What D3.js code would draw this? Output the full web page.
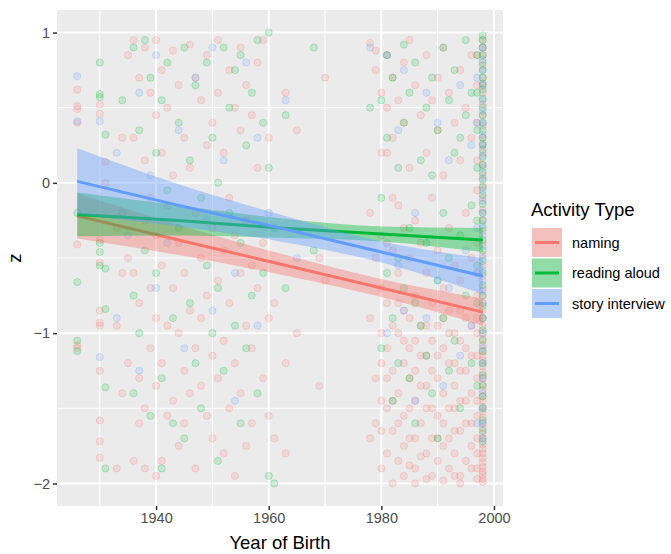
<!DOCTYPE html>
<html>
<head>
<meta charset="utf-8">
<script src="https://cdn.jsdelivr.net/npm/d3@7"></script>
<style>
  html, body { margin: 0; padding: 0; background: #ffffff; }
  svg { display: block; font-family: "Liberation Sans", Arial, Helvetica, sans-serif; }
</style>
</head>
<body>
<svg id="chart" width="671" height="554"></svg>
<script>
// ---------------- data ----------------
const categories = ["naming", "reading aloud", "story interview"];
const colors = ["#F8766D", "#00BA38", "#619CFF"];

const xTicks = [1940, 1960, 1980, 2000];
const xMinor = [1930, 1950, 1970, 1990];
const yTicks = [1, 0, -1, -2];
const yMinor = [0.5, -0.5, -1.5];

// points: [year, z values]
const namingPts = [
  [1926, [0.62, 0.51, 0.49, 0.40, -0.41, -1.08, -1.10]],
  [1930, [0.52, 0.46, -0.38, -0.53, -0.85, -0.93, -0.95, -1.25, -1.58, -1.72, -1.83]],
  [1931, [0.14, 0.0]],
  [1933, [-0.3, -0.95, -1.9]],
  [1934, [0.3, -0.6, -1.4]],
  [1935, [0.85, -0.5, -1.2]],
  [1936, [0.95, 0.3, -0.6, -1.85]],
  [1937, [0.7, -0.8, -1.3, -1.6]],
  [1938, [0.9, 0.15, -0.25, -1.5, -1.9]],
  [1939, [0.6, -0.1, -0.7, -1.1]],
  [1940, [0.95, 0.45, -0.35, -0.9, -1.35, -1.95]],
  [1941, [0.75, 0.2, -0.55, -1.2, -1.85]],
  [1942, [0.5, -0.15, -0.95, -1.55]],
  [1943, [0.88, 0.05, -0.7, -1.45]],
  [1944, [0.65, -0.4, -1.0, -1.75]],
  [1945, [0.3, -0.6, -1.25, -1.6]],
  [1946, [0.92, 0.1, -0.85, -1.4]],
  [1947, [0.7, -0.2, -1.1, -1.9]],
  [1948, [0.55, -0.5, -0.9, -1.35]],
  [1949, [0.85, 0.25, -0.75, -1.55]],
  [1950, [0.4, -0.3, -1.15, -1.7]],
  [1951, [0.95, 0.6, -0.65, -1.3]],
  [1952, [0.2, -0.45, -1.05, -1.8]],
  [1953, [0.75, -0.1, -0.8, -1.5]],
  [1954, [0.5, -0.35, -1.2, -1.95]],
  [1955, [0.9, 0.35, -0.6, -1.4]],
  [1956, [0.65, -0.25, -0.95, -1.75]],
  [1957, [0.45, -0.55, -1.1, -1.6]],
  [1958, [0.8, 0.1, -0.7]],
  [1959, [0.95, -0.4, -1.3]],
  [1960, [0.3, -0.9, -1.55]],
  [1961, [-0.8, -1.7]],
  [1963, [0.6, -1.2, -1.8]],
  [1965, [0.35, -1.0]],
  [1969, [-0.5, -1.35]],
  [1970, [0.7, -0.65]],
  [1978, [0.93, -0.2, -0.9, -1.7]],
  [1979, [0.88, 0.75, -0.5, -1.3, -1.6]],
  [1980, [0.6, 0.2, -0.35, -0.7, -1.0, -1.2, -1.45, -1.65, -1.9]],
  [1981, [0.85, 0.5, 0.2, -0.4, -0.8, -1.1, -1.3, -1.5, -1.8]],
  [1982, [0.7, 0.3, -0.1, -0.45, -0.95, -1.25, -1.45, -1.65, -2.0]],
  [1983, [0.55, -0.15, -0.6, -0.8, -1.0, -1.4, -1.6, -1.85]],
  [1984, [0.8, 0.4, -0.3, -0.85, -1.05, -1.2, -1.55, -1.75, -1.95]],
  [1985, [0.95, 0.1, -0.5, -0.9, -1.1, -1.3, -1.5, -1.7, -1.88]],
  [1986, [0.65, -0.25, -0.75, -1.05, -1.25, -1.45, -1.7, -1.9, -2.0]],
  [1987, [0.45, -0.4, -0.95, -1.15, -1.35, -1.6, -1.82]],
  [1988, [0.85, 0.2, -0.6, -0.95, -1.15, -1.35, -1.5, -1.8, -1.97]],
  [1989, [0.55, -0.1, -0.8, -1.05, -1.25, -1.5, -1.7, -1.95]],
  [1990, [0.7, 0.35, -0.45, -0.95, -1.15, -1.3, -1.55, -1.7, -1.85]],
  [1991, [0.9, 0.05, -0.7, -0.9, -1.1, -1.4, -1.6, -1.75, -1.98]],
  [1992, [0.6, -0.3, -0.85, -1.0, -1.2, -1.5, -1.7, -1.9]],
  [1993, [0.4, -0.55, -1.0, -1.2, -1.35, -1.5, -1.65, -1.8, -1.95]],
  [1994, [0.75, 0.15, -0.65, -0.85, -1.05, -1.25, -1.45, -1.65, -1.95, -2.0]],
  [1995, [0.5, -0.2, -0.9, -1.1, -1.25, -1.45, -1.6, -1.85]],
  [1996, [0.85, 0.3, -0.5, -0.95, -1.15, -1.4, -1.6, -1.75, -1.9]],
  [1997, [0.85, 0.65, 0.4, 0.15, -0.05, -0.4, -0.6, -0.75, -0.9, -1.0, -1.15, -1.3, -1.45,
          -1.55, -1.7, -1.8, -1.9, -1.97]],
  [1998, [0.95, 0.9, 0.85, 0.78, 0.7, 0.65, 0.6, 0.52, 0.45, 0.38, 0.3, 0.25, 0.2, 0.12, 0.05,
          -0.02, -0.1, -0.18, -0.25, -0.32, -0.4, -0.48, -0.55, -0.62, -0.7, -0.75, -0.8, -0.85,
          -0.9, -0.95, -1.0, -1.04, -1.08, -1.12, -1.15, -1.18, -1.22, -1.26, -1.3, -1.34, -1.38,
          -1.42, -1.45, -1.49, -1.52, -1.56, -1.6, -1.63, -1.67, -1.7, -1.74, -1.77, -1.8, -1.83,
          -1.86, -1.89, -1.92, -1.94, -1.97, -1.99]]
];

const readingPts = [
  [1926, [-0.20, -0.66, -1.05, -1.12]],
  [1930, [0.80, 0.59, 0.57, -0.40, -0.46, -0.55]],
  [1931, [0.32, -0.57, -0.84, -1.36, -1.90]],
  [1934, [0.55, -0.2]],
  [1936, [0.9, -0.75, -1.4]],
  [1937, [0.35, -1.0]],
  [1938, [0.95, -0.45]],
  [1939, [0.7, -1.55]],
  [1940, [0.2, -0.6]],
  [1941, [0.55, -1.3, -1.9]],
  [1942, [0.8, -0.05]],
  [1943, [-0.9, -1.6]],
  [1944, [0.4, -0.3]],
  [1945, [0.9, -1.7]],
  [1946, [0.15, -0.8]],
  [1947, [0.65, -1.2]],
  [1948, [-0.1, -1.5]],
  [1949, [0.8, -0.55]],
  [1950, [0.3, -1.0]],
  [1951, [0.0, -0.7, -1.85]],
  [1952, [0.9, -1.25]],
  [1953, [0.5, -0.2]],
  [1954, [0.75, -0.95]],
  [1955, [0.85, -0.4, -1.6]],
  [1956, [0.25, -1.1]],
  [1957, [0.6, -0.75]],
  [1958, [0.95, -1.4]],
  [1959, [0.4, -0.6]],
  [1960, [1.0, 0.1, -1.95]],
  [1961, [-2.0, -0.3]],
  [1963, [0.45, -0.7]],
  [1968, [0.9, -0.45]],
  [1978, [0.5]],
  [1980, [0.55, -0.1, -1.1]],
  [1981, [0.85, 0.3, -0.6]],
  [1982, [0.7, -0.9, -1.45]],
  [1983, [0.1, -0.5, -1.2]],
  [1984, [0.92, 0.4, -0.7]],
  [1985, [0.6, -0.3, -1.3]],
  [1986, [0.8, -0.8, -1.6]],
  [1987, [0.15, -0.95]],
  [1988, [0.5, -0.4, -1.15]],
  [1989, [0.7, 0.05, -1.4]],
  [1990, [0.35, -0.65, -1.7]],
  [1991, [0.9, -0.2, -0.9]],
  [1992, [0.55, -0.5, -1.25]],
  [1993, [0.75, 0.2, -1.05]],
  [1994, [0.3, -0.35, -1.5]],
  [1995, [0.95, 0.45, -0.75]],
  [1996, [0.6, -0.15, -1.2]],
  [1997, [0.85, 0.6, 0.35, 0.1, -0.25, -0.55, -0.8, -1.35]],
  [1998, [0.98, 0.95, 0.9, 0.85, 0.8, 0.75, 0.7, 0.66, 0.62, 0.56, 0.5, 0.45, 0.4, 0.35, 0.3,
          0.26, 0.22, 0.17, 0.12, 0.07, 0.02, -0.03, -0.08, -0.14, -0.2, -0.25, -0.3, -0.38,
          -0.45, -0.52, -0.6, -0.68, -0.75, -0.82, -0.9, -0.98, -1.05, -1.12, -1.2, -1.28,
          -1.35, -1.42, -1.5, -1.58, -1.65, -1.72]]
];

const storyPts = [
  [1926, [0.71, 0.41]],
  [1930, [0.41, -1.16]],
  [1933, [0.2, -0.9]],
  [1935, [-0.35]],
  [1937, [0.6, -1.25]],
  [1939, [0.05]],
  [1940, [0.85, -0.7]],
  [1942, [-0.4]],
  [1944, [0.35]],
  [1945, [-1.1]],
  [1947, [0.7]],
  [1949, [-0.25]],
  [1950, [0.9, -0.85]],
  [1952, [0.15]],
  [1954, [-0.6, -1.45]],
  [1956, [0.8]],
  [1958, [0.3, -0.95]],
  [1960, [-0.2]],
  [1963, [0.55]],
  [1965, [-0.5]],
  [1978, [0.9]],
  [1981, [0.85, -1.0]],
  [1983, [0.35, -0.55]],
  [1984, [0.75, -0.85]],
  [1986, [-0.2, -1.45]],
  [1988, [0.6, -0.9]],
  [1990, [0.4, -0.65]],
  [1991, [-1.35]],
  [1992, [0.15, -0.7]],
  [1994, [0.65, -1.15]],
  [1995, [-0.45]],
  [1996, [0.25, -0.95]],
  [1997, [0.7, 0.4, -0.3, -0.6, -1.6]],
  [1998, [0.9, 0.82, 0.75, 0.65, 0.55, 0.48, 0.4, 0.32, 0.25, 0.18, 0.1, 0.03, -0.05, -0.12,
          -0.2, -0.28, -0.35, -0.42, -0.5, -0.58, -0.65, -0.72, -0.8, -0.9, -1.0, -1.1, -1.2,
          -1.3, -1.4, -1.5, -1.6, -1.7]]
];

// linear fits with confidence band, read at these years
const fitYears = [1926, 1944, 1962, 1980, 1998];
const namingFit = [-0.22, -0.38, -0.54, -0.70, -0.86];
const namingLo  = [-0.37, -0.48, -0.61, -0.76, -0.95];
const namingHi  = [-0.07, -0.28, -0.47, -0.64, -0.77];
const readingFit = [-0.21, -0.25, -0.30, -0.34, -0.38];
const readingLo  = [-0.355, -0.35, -0.365, -0.39, -0.46];
const readingHi  = [-0.065, -0.15, -0.235, -0.29, -0.30];
const storyFit = [0.01, -0.15, -0.30, -0.46, -0.62];
const storyLo  = [-0.21, -0.29, -0.39, -0.53, -0.74];
const storyHi  = [0.23, -0.01, -0.21, -0.39, -0.50];

// ---------------- build ----------------
const pointSets = [namingPts, readingPts, storyPts];
const fits = [
  {fit: namingFit, lo: namingLo, hi: namingHi},
  {fit: readingFit, lo: readingLo, hi: readingHi},
  {fit: storyFit, lo: storyLo, hi: storyHi}
];

const svg = d3.select("#chart");
const panel = {left: 57, top: 10, right: 503, bottom: 506};

const x = d3.scaleLinear().domain([1922.4, 2001.6]).range([panel.left, panel.right]);
const y = d3.scaleLinear().domain([-2.15, 1.15]).range([panel.bottom, panel.top]);

svg.append("rect")
  .attr("x", panel.left).attr("y", panel.top)
  .attr("width", panel.right - panel.left).attr("height", panel.bottom - panel.top)
  .attr("fill", "#EBEBEB");

const grid = svg.append("g");
grid.selectAll(".vmin").data(xMinor).enter().append("line")
  .attr("x1", d => x(d)).attr("x2", d => x(d)).attr("y1", panel.top).attr("y2", panel.bottom)
  .attr("stroke", "#fff").attr("stroke-width", 1);
grid.selectAll(".hmin").data(yMinor).enter().append("line")
  .attr("y1", d => y(d)).attr("y2", d => y(d)).attr("x1", panel.left).attr("x2", panel.right)
  .attr("stroke", "#fff").attr("stroke-width", 1);
grid.selectAll(".vmaj").data(xTicks).enter().append("line")
  .attr("x1", d => x(d)).attr("x2", d => x(d)).attr("y1", panel.top).attr("y2", panel.bottom)
  .attr("stroke", "#fff").attr("stroke-width", 2);
grid.selectAll(".hmaj").data(yTicks).enter().append("line")
  .attr("y1", d => y(d)).attr("y2", d => y(d)).attr("x1", panel.left).attr("x2", panel.right)
  .attr("stroke", "#fff").attr("stroke-width", 2);

svg.append("clipPath").attr("id", "clip").append("rect")
  .attr("x", panel.left).attr("y", panel.top)
  .attr("width", panel.right - panel.left).attr("height", panel.bottom - panel.top);

const plot = svg.append("g").attr("clip-path", "url(#clip)");

// points
pointSets.forEach((set, i) => {
  const flat = [];
  set.forEach(([yr, zs]) => zs.forEach(z => flat.push([yr, z])));
  plot.append("g").selectAll("circle").data(flat).enter().append("circle")
    .attr("cx", d => x(d[0])).attr("cy", d => y(d[1])).attr("r", 3.6)
    .attr("fill", colors[i]).attr("fill-opacity", 0.16)
    .attr("stroke", colors[i]).attr("stroke-opacity", 0.22).attr("stroke-width", 1);
});

// ribbons + lines
const area = d3.area().x(d => x(d.yr)).y0(d => y(d.lo)).y1(d => y(d.hi)).curve(d3.curveMonotoneX);
const line = d3.line().x(d => x(d.yr)).y(d => y(d.fit));
fits.forEach((f, i) => {
  const rows = fitYears.map((yr, k) => ({yr, fit: f.fit[k], lo: f.lo[k], hi: f.hi[k]}));
  plot.append("path").datum(rows).attr("d", area).attr("fill", colors[i]).attr("fill-opacity", 0.4);
  plot.append("path").datum(rows).attr("d", line).attr("fill", "none")
    .attr("stroke", colors[i]).attr("stroke-width", 3);
});

// axes
const xAxis = d3.axisBottom(x).tickValues(xTicks).tickSize(4).tickPadding(3).tickFormat(d3.format("d"));
const gx = svg.append("g").attr("transform", `translate(0,${panel.bottom})`).call(xAxis);
gx.select(".domain").remove();
gx.selectAll(".tick line").attr("stroke", "#333").attr("stroke-width", 1.5);
gx.selectAll(".tick text").attr("fill", "#4D4D4D").style("font-size", "14.5px")
  .style("font-family", "Liberation Sans, Arial, sans-serif");

const yAxis = d3.axisLeft(y).tickValues(yTicks).tickSize(4).tickPadding(3).tickFormat(d3.format("d"));
const gy = svg.append("g").attr("transform", `translate(${panel.left},0)`).call(yAxis);
gy.select(".domain").remove();
gy.selectAll(".tick line").attr("stroke", "#333").attr("stroke-width", 1.5);
gy.selectAll(".tick text").attr("fill", "#4D4D4D").style("font-size", "14.5px")
  .style("font-family", "Liberation Sans, Arial, sans-serif");

// axis titles
svg.append("text").attr("x", (panel.left + panel.right) / 2).attr("y", 549)
  .attr("text-anchor", "middle").style("font-size", "18.5px").attr("fill", "#000")
  .text("Year of Birth");
svg.append("text").attr("transform", `translate(21,${(panel.top + panel.bottom) / 2}) rotate(-90)`)
  .attr("text-anchor", "middle").style("font-size", "18.5px").attr("fill", "#000")
  .text("z");

// legend
const lg = svg.append("g");
lg.append("text").attr("x", 531).attr("y", 216).style("font-size", "18.5px").attr("fill", "#000")
  .text("Activity Type");
const keyTop = 228, keyH = 30.5, keyW = 30;
categories.forEach((c, i) => {
  const ky = keyTop + i * keyH;
  lg.append("rect").attr("x", 532).attr("y", ky).attr("width", keyW).attr("height", keyH - 1.5)
    .attr("fill", "#F2F2F2");
  lg.append("rect").attr("x", 532).attr("y", ky).attr("width", keyW).attr("height", keyH - 1.5)
    .attr("fill", colors[i]).attr("fill-opacity", 0.4);
  lg.append("line").attr("x1", 535).attr("x2", 559)
    .attr("y1", ky + (keyH - 1.5) / 2).attr("y2", ky + (keyH - 1.5) / 2)
    .attr("stroke", colors[i]).attr("stroke-width", 3);
  lg.append("text").attr("x", 572).attr("y", ky + (keyH - 1.5) / 2).attr("dy", "0.35em")
    .style("font-size", "14.5px").attr("fill", "#000").text(c);
});
</script>
</body>
</html>
